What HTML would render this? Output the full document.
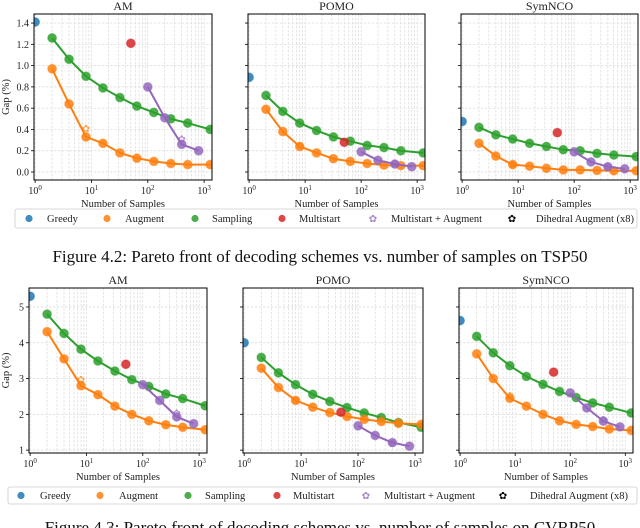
<!DOCTYPE html>
<html><head><meta charset="utf-8">
<style>
html,body{margin:0;padding:0;background:#fff;}
svg{display:block;font-family:"Liberation Serif",serif;}
</style></head>
<body>
<svg id="fig" width="640" height="528" viewBox="0 0 640 528" xmlns="http://www.w3.org/2000/svg"></svg>
<script>
// ---- data ----
const samplesX = [2,4,8,16,32,64,128,256,512,1280];
const msaugX = [100,200,400,800];
const greedyX = 1;
const multistartX = 50;
const dihedralX = [8,400];
const panelTitles = ["AM","POMO","SymNCO"];

// TSP50
const tspGreedy = [1.41, 0.89, 0.475];
const tspMultistart = [1.21, 0.28, 0.37];
const tspSamplingAM = [1.26,1.06,0.90,0.79,0.70,0.62,0.56,0.50,0.46,0.40];
const tspAugmentAM = [0.97,0.64,0.33,0.27,0.18,0.13,0.10,0.08,0.07,0.07];
const tspMsAugAM = [0.80,0.51,0.26,0.20];
const tspDihedralAM = [0.41,0.31];
const tspSamplingPOMO = [0.72,0.57,0.46,0.39,0.33,0.29,0.25,0.23,0.20,0.18];
const tspAugmentPOMO = [0.59,0.38,0.24,0.18,0.125,0.10,0.08,0.065,0.06,0.06];
const tspMsAugPOMO = [0.19,0.11,0.075,0.05];
const tspDihedralPOMO = [0.25,0.08];
const tspSamplingSym = [0.42,0.35,0.31,0.27,0.24,0.21,0.20,0.175,0.16,0.145];
const tspAugmentSym = [0.27,0.15,0.07,0.055,0.035,0.02,0.02,0.015,0.012,0.012];
const tspMsAugSym = [0.19,0.095,0.05,0.03];
const tspDihedralSym = [0.07,0.05];
const tspYTicks = [0.0,0.2,0.4,0.6,0.8,1.0,1.2,1.4];
const tspYTickLabels = ["0.0","0.2","0.4","0.6","0.8","1.0","1.2","1.4"];

// CVRP50
const cvrpGreedy = [5.3, 4.0, 4.62];
const cvrpMultistart = [3.4, 2.06, 3.18];
const cvrpSamplingAM = [4.8,4.26,3.82,3.49,3.21,2.97,2.78,2.57,2.44,2.24];
const cvrpAugmentAM = [4.31,3.55,2.8,2.55,2.23,2.0,1.82,1.71,1.64,1.57];
const cvrpMsAugAM = [2.83,2.39,1.93,1.74];
const cvrpDihedralAM = [2.97,2.04];
const cvrpSamplingPOMO = [3.59,3.16,2.83,2.56,2.36,2.19,2.04,1.91,1.77,1.64];
const cvrpAugmentPOMO = [3.29,2.75,2.39,2.2,2.05,1.94,1.86,1.8,1.75,1.72];
const cvrpMsAugPOMO = [1.68,1.41,1.21,1.11];
const cvrpDihedralPOMO = [2.4,1.2];
const cvrpSamplingSym = [4.18,3.72,3.36,3.06,2.84,2.64,2.47,2.32,2.2,2.04];
const cvrpAugmentSym = [3.69,3.0,2.45,2.23,2.0,1.82,1.72,1.66,1.59,1.55];
const cvrpMsAugSym = [2.6,2.18,1.81,1.65];
const cvrpDihedralSym = [2.52,1.86];
const cvrpYTicks = [1,2,3,4,5];
const cvrpYTickLabels = ["1","2","3","4","5"];

const xTicks = [1,10,100,1000];
const xTickExp = ["0","1","2","3"];
const legendLabels = ["Greedy","Augment","Sampling","Multistart","Multistart + Augment","Dihedral Augment (x8)"];

const C = {blue:"#1f77b4",orange:"#ff7f0e",green:"#2ca02c",red:"#d62728",purple:"#9467bd"};
const svg = document.getElementById('fig');
const NS = "http://www.w3.org/2000/svg";
function mk(tag, attrs, parent){
  const e = document.createElementNS(NS, tag);
  for (const k in attrs) e.setAttribute(k, attrs[k]);
  (parent||svg).appendChild(e);
  return e;
}

function panel(opt){
  const g = mk('g',{});
  
  
  const L=opt.left,R=opt.right,T=opt.top,B=opt.bottom;
  const lx0=-0.02, lx1=3.14;
  const xs = v => L + (Math.log10(v)-lx0)/(lx1-lx0)*(R-L);
  const ys = v => B - (v-opt.ymin)/(opt.ymax-opt.ymin)*(B-T);
  const clip = 'clip-'+opt.name;
  const cp = mk('clipPath',{id:clip},g); mk('rect',{x:L,y:T,width:R-L,height:B-T},cp);
  const grid = mk('g',{stroke:"#d9d9d9","stroke-width":0.7,"stroke-dasharray":"2.5,1.5"},g);
  
  
  for (let d=0; d<4; d++) for (let m=1; m<10; m++){
    const v=m*Math.pow(10,d); const x=xs(v);
    if (x<L+0.5||x>R-0.5) continue;
    mk('line',{x1:x,x2:x,y1:T,y2:B},grid);
  }
  opt.yticks.forEach(v=>{ const y=ys(v); mk('line',{x1:L,x2:R,y1:y,y2:y},grid); });
  opt.yticks.forEach((v,i)=>{
    const y=ys(v);
    mk('line',{x1:L-3,x2:L,y1:y,y2:y,stroke:"#000","stroke-width":0.8},g);
    if (opt.ylabels){
      const t=mk('text',{x:L-5,y:y+3.5,"font-size":10,"text-anchor":"end",fill:"#222"},g);
      t.textContent=opt.ylabels[i];
      
      
    }
  });
  xTicks.forEach((v,i)=>{
    const x=xs(v);
    mk('line',{x1:x,x2:x,y1:B,y2:B+3,stroke:"#000","stroke-width":0.8},g);
    const t=mk('text',{x:x,y:B+14,"font-size":10,"text-anchor":"middle",fill:"#222"},g);
    t.textContent="10";
    const s=mk('tspan',{"font-size":7,dy:-4},t); s.textContent=xTickExp[i];
    
    
  });
  const marks = mk('g',{"clip-path":"url(#"+clip+")"},g);
  function line(xsArr, ysArr, color, name){
    const pts = xsArr.map((x,i)=>xs(x)+","+ys(ysArr[i])).join(" ");
    const pl = mk('polyline',{points:pts,fill:"none",stroke:color,"stroke-width":2},marks);
    
    
    xsArr.forEach((x,i)=>dot(x,ysArr[i],color,name));
  }
  function dot(x,y,color,name){
    const c = mk('circle',{cx:xs(x),cy:ys(y),r:4.3,fill:color,"fill-opacity":0.85,stroke:color,"stroke-opacity":0.5,"stroke-width":1.2},marks);
    
    
  }
  function dih(x,y,color){
    const c = mk('text',{x:xs(x),y:ys(y)+3.5,"font-size":10,"text-anchor":"middle",fill:color,"fill-opacity":0.7},marks);
    c.textContent="✿";
    
    
  }
  line(samplesX, opt.sampling, C.green, 'sampling');
  line(samplesX, opt.augment, C.orange, 'augment');
  line(msaugX, opt.msaug, C.purple, 'multistart-augment');
  dot(greedyX, opt.greedy, C.blue, 'greedy');
  dot(multistartX, opt.multistart, C.red, 'multistart');
  dih(dihedralX[0], opt.dihedral[0], C.orange);
  dih(dihedralX[1], opt.dihedral[1], C.purple);
  mk('rect',{x:L,y:T,width:R-L,height:B-T,fill:"none",stroke:"#000","stroke-width":1},g);
  const tt = mk('text',{x:(L+R)/2,y:T-4,"font-size":12,"text-anchor":"middle",fill:"#222"},g);
  tt.textContent=opt.title;
  
  
  const xl = mk('text',{x:(L+R)/2,y:B+27,"font-size":10.5,"text-anchor":"middle",fill:"#222"},g);
  xl.textContent="Number of Samples";
  
  
  if (opt.ylabels){
    const yl = mk('text',{x:0,y:0,"font-size":10.5,"text-anchor":"middle",fill:"#222",transform:`translate(9,${(T+B)/2}) rotate(-90)`},g);
    yl.textContent="Gap (%)";
    
    
  }
}

const topBoxes=[[34,212],[248,425],[461,638]];
const tspS=[tspSamplingAM,tspSamplingPOMO,tspSamplingSym];
const tspA=[tspAugmentAM,tspAugmentPOMO,tspAugmentSym];
const tspM=[tspMsAugAM,tspMsAugPOMO,tspMsAugSym];
const tspD=[tspDihedralAM,tspDihedralPOMO,tspDihedralSym];
for (let i=0;i<3;i++) panel({name:'tsp-'+panelTitles[i].toLowerCase()+'-panel',title:panelTitles[i],left:topBoxes[i][0],right:topBoxes[i][1],top:14,bottom:180,ymin:-0.075,ymax:1.485,yticks:tspYTicks,ylabels:i==0?tspYTickLabels:null,sampling:tspS[i],augment:tspA[i],msaug:tspM[i],greedy:tspGreedy[i],multistart:tspMultistart[i],dihedral:tspD[i]});

const botBoxes=[[29,207],[243,423],[459,633]];
const cS=[cvrpSamplingAM,cvrpSamplingPOMO,cvrpSamplingSym];
const cA=[cvrpAugmentAM,cvrpAugmentPOMO,cvrpAugmentSym];
const cM=[cvrpMsAugAM,cvrpMsAugPOMO,cvrpMsAugSym];
const cD=[cvrpDihedralAM,cvrpDihedralPOMO,cvrpDihedralSym];
for (let i=0;i<3;i++) panel({name:'cvrp-'+panelTitles[i].toLowerCase()+'-panel',title:panelTitles[i],left:botBoxes[i][0],right:botBoxes[i][1],top:288,bottom:453,ymin:0.92,ymax:5.53,yticks:cvrpYTicks,ylabels:i==0?cvrpYTickLabels:null,sampling:cS[i],augment:cA[i],msaug:cM[i],greedy:cvrpGreedy[i],multistart:cvrpMultistart[i],dihedral:cD[i]});

function legend(name,x0,x1,y0,y1,markX,textX){
  const g=mk('g',{});
  
  
  mk('rect',{x:x0,y:y0,width:x1-x0,height:y1-y0,rx:2,fill:"#fff",stroke:"#ccc","stroke-width":0.8},g);
  const cols=[C.blue,C.orange,C.green,C.red,C.purple,"#000"];
  const cy=(y0+y1)/2;
  legendLabels.forEach((lab,i)=>{
    const e=mk('g',{},g);
    
    
    if (i<4) mk('circle',{cx:markX[i],cy:cy,r:3.6,fill:cols[i],"fill-opacity":0.85},e);
    else { const t=mk('text',{x:markX[i],y:cy+3.5,"font-size":10,"text-anchor":"middle",fill:cols[i],"fill-opacity":i==4?0.8:1},e); t.textContent="✿"; }
    const t=mk('text',{x:textX[i],y:cy+3.5,"font-size":10.5,fill:"#222"},e);
    t.textContent=lab;
  });
}
legend('legend-tsp',15,637,209,228,[29,107,195,282,373,512],[47,125,212,299,391,536]);
legend('legend-cvrp',8,637,487,504,[21,100,188,277,366,503],[40,119,205,293,384,530]);

const c1=mk('text',{x:320,y:262,"font-size":17,"text-anchor":"middle",fill:"#111"});
c1.textContent="Figure 4.2: Pareto front of decoding schemes vs. number of samples on TSP50";


const c2=mk('text',{x:320,y:533,"font-size":17,"text-anchor":"middle",fill:"#111"});
c2.textContent="Figure 4.3: Pareto front of decoding schemes vs. number of samples on CVRP50";


</script>
</body></html>
